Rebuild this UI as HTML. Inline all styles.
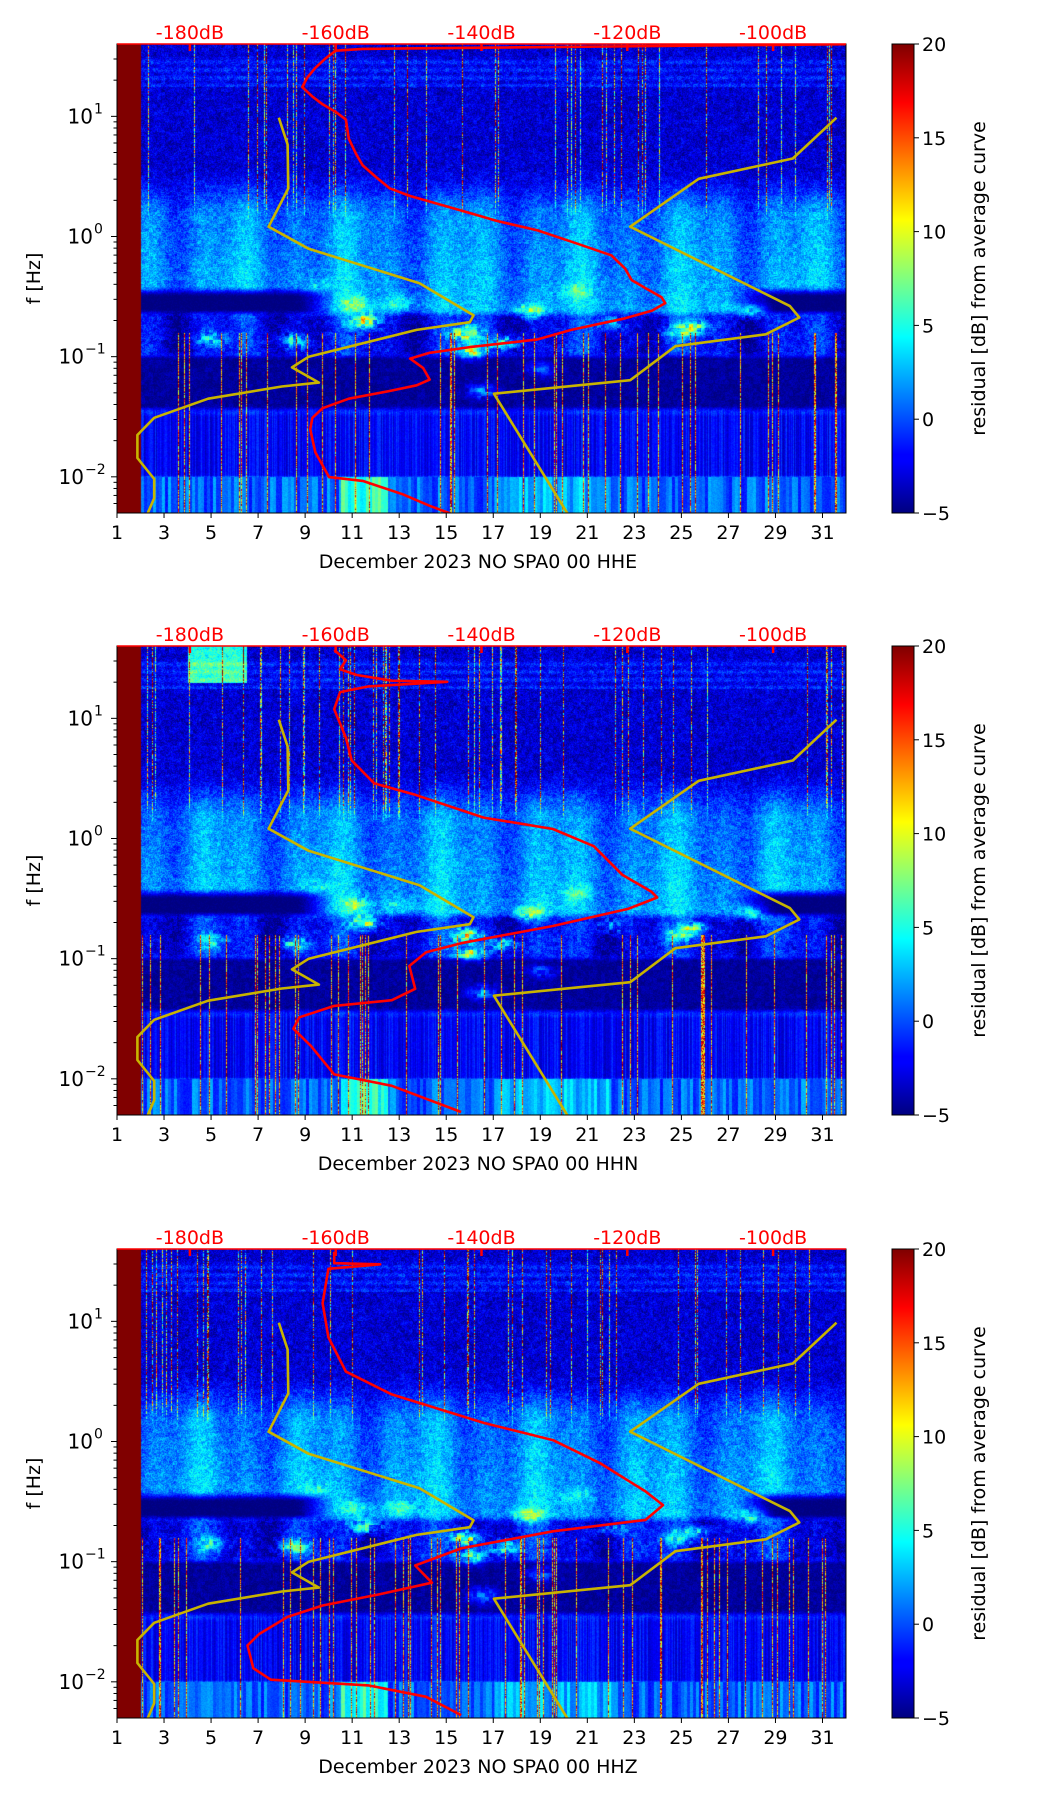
<!DOCTYPE html>
<html><head><meta charset="utf-8">
<style>
body{margin:0;background:#fff;width:1052px;height:1806px;position:relative;overflow:hidden;font-family:"DejaVu Sans","Liberation Sans",sans-serif}
canvas{position:absolute;z-index:0}
svg{position:absolute;left:0;top:0;z-index:1}
</style></head><body>
<div id="root"></div>
<svg id="svg" width="1052" height="1806"></svg>
<script>
// ---- data ----
const xTickDays=[1,3,5,7,9,11,13,15,17,19,21,23,25,27,29,31];
const yTickExp=[1,0,-1,-2];
const dbTicks=[-180,-160,-140,-120,-100];
const cbTicks=[20,15,10,5,0,-5];
const titles=["December 2023 NO SPA0 00 HHE","December 2023 NO SPA0 00 HHN","December 2023 NO SPA0 00 HHZ"];
const nlnmDb=[-167.8,-166.6,-166.5,-169.2,-163.7,-148.5,-141.1,-141.6,-148.9,-163.7,-166.0,-162.3,-167.4,-177.5,-184.9,-187.2,-187.2,-184.9,-184.9,-185.8];
const nlnmLogF=[0.989,0.766,0.400,0.082,-0.102,-0.389,-0.656,-0.713,-0.777,-1.000,-1.089,-1.216,-1.248,-1.350,-1.509,-1.652,-1.843,-2.018,-2.177,-2.305];
const nhnmDb=[-91.3,-97.3,-110.2,-119.6,-97.7,-96.4,-101.0,-113.4,-119.6,-138.3,-128.2];
const nhnmLogF=[0.989,0.649,0.480,0.082,-0.579,-0.674,-0.814,-0.913,-1.196,-1.308,-2.305];
const red1Db=[-90,-156.3,-160.0,-161.4,-162.8,-163.9,-164.6,-163.2,-161.8,-160.0,-158.6,-158.2,-157.2,-156.3,-154.5,-152.6,-149.8,-143.4,-137.9,-132.3,-126.8,-122.2,-120.3,-119.4,-117.6,-115.3,-114.8,-116.6,-120.3,-127.7,-132.3,-141.6,-147.1,-149.8,-148.0,-147.1,-148.9,-152.6,-158.2,-161.8,-163.2,-163.5,-162.8,-160.9,-156.3,-150.8,-147.1,-144.3];
const red1LogF=[1.600,1.561,1.546,1.482,1.403,1.323,1.243,1.164,1.100,1.037,0.973,0.814,0.687,0.592,0.496,0.401,0.337,0.226,0.130,0.051,-0.061,-0.156,-0.267,-0.363,-0.426,-0.506,-0.554,-0.617,-0.681,-0.777,-0.856,-0.920,-0.968,-1.016,-1.095,-1.191,-1.238,-1.286,-1.350,-1.429,-1.509,-1.604,-1.795,-2.002,-2.034,-2.145,-2.241,-2.305];
const red2Db=[-160.2,-158.6,-159.4,-157.1,-152.3,-144.7,-155.5,-159.4,-160.2,-158.6,-157.8,-154.7,-149.1,-139.7,-130.2,-124.6,-120.7,-116.7,-115.9,-119.9,-130.2,-142.8,-147.6,-149.9,-149.1,-152.3,-160.2,-165.0,-165.8,-163.4,-160.2,-152.3,-142.8];
const red2LogF=[1.570,1.484,1.408,1.361,1.313,1.304,1.266,1.218,1.076,0.839,0.649,0.459,0.364,0.174,0.079,-0.064,-0.301,-0.443,-0.491,-0.586,-0.728,-0.871,-0.947,-1.061,-1.251,-1.346,-1.393,-1.488,-1.583,-1.726,-1.963,-2.058,-2.276];
const red3Db=[-160.2,-160.2,-153.9,-161.0,-161.8,-161.0,-158.6,-152.3,-139.7,-130.2,-123.8,-117.5,-115.1,-117.5,-130.2,-142.8,-149.1,-146.8,-153.9,-161.8,-166.6,-170.5,-172.1,-171.3,-168.9,-155.5,-147.6,-142.8];
const red3LogF=[1.579,1.484,1.475,1.437,1.152,0.867,0.582,0.392,0.155,0.012,-0.178,-0.415,-0.529,-0.652,-0.747,-0.890,-1.032,-1.175,-1.270,-1.365,-1.460,-1.602,-1.697,-1.887,-1.982,-2.030,-2.125,-2.277];
const redDb=[red1Db,red2Db,red3Db], redLogF=[red1LogF,red2LogF,red3LogF];
// hotspots: day, log10(f), amplitude
const hotDay=[11.5,15.8,16.0,17.5,18.5,8.5,25.5,22.0,16.5,19.0,28.0,5.0,13.0,20.5,9.5,24.8,11.2];
const hotLogF=[-0.70,-0.80,-0.95,-0.88,-0.62,-0.87,-0.75,-0.72,-1.28,-1.10,-0.62,-0.85,-0.55,-0.45,-0.40,-0.80,-0.55];
const hotAmp=[14,14,12,10,8,9,10,6,7,5,7,7,4,4,3,6,6];

// ---- geometry ----
const L=117,R=846,W=R-L,H=469;
const tops=[44,646,1249];
const xDay=d=>L+(d-1)*W/31;
const xDb=db=>L+(db+190)*W/100;
const LF0=Math.log10(40),LF1=Math.log10(0.005);
const yF=(t,lf)=>t+(LF0-lf)*H/(LF0-LF1);

function jet(v){let t=(v+5)/25;t=Math.max(0,Math.min(1,t));
 const c=x=>Math.max(0,Math.min(1,x));
 return [c(1.5-Math.abs(4*t-3))*255,c(1.5-Math.abs(4*t-2))*255,c(1.5-Math.abs(4*t-1))*255];}
function hash(a,b,s){let h=(a*374761393+b*668265263+s*982451653)|0;h=(h^(h>>>13))*1274126177|0;h^=h>>>16;return (h>>>0)/4294967296;}
const ss=(a,b,x)=>{let t=Math.max(0,Math.min(1,(x-a)/(b-a)));return t*t*(3-2*t);};

function drawSpec(p){
 const cv=document.createElement('canvas');cv.width=W;cv.height=H;
 cv.style.left=L+'px';cv.style.top=tops[p]+'px';
 
 
 document.body.insertBefore(cv,document.body.firstChild);
 const ctx=cv.getContext('2d');const img=ctx.createImageData(W,H);const D=img.data;
 const colS=[],colLow=[],colLine=[],colV=[],colTop=[];
 for(let i=0;i<W;i++){colS.push(hash(i,7,p+1));colLow.push(hash(i,11,p+3));colLine.push(hash(i,19,p+5));colV.push(hash(Math.floor(i/3),23,p+7));colTop.push(0.3+0.7*hash(i,31,p));}
 for(let j=0;j<H;j++){
  const lf=LF0-j*(LF0-LF1)/H;
  for(let i=0;i<W;i++){
   const d=1+i*31/W;let v;
   const n=hash(i,j,p)-0.5, n2=hash(i>>2,j>>2,p+9)-0.5;
   if(d<2){v=20;}
   else{
    const plume=1.5*Math.sin(d*1.3+p)+1.0*Math.sin(d*3.1);
    const high=-3.0+n*3.2+n2*1.5+((lf>1.25&&lf<1.5)?1.2+Math.sin(j*0.8)*0.8:0)+(p===1&&lf>1.3&&d>4&&d<6.5?8:0);
    const mid=1.0+n*3.2+n2*1.5+plume*0.8+(0.3-lf)*1.5;
    const wH=ss(0.15,0.6,lf);
    v=wH*high+(1-wH)*mid;
    if(lf>0.1&&colS[i]>0.93) v+=(8+colS[i]*40*(0.4+n))*ss(0.1,0.5,lf)*colTop[i];
    const band=ss(-0.7,-0.6,lf)*(1-ss(-0.5,-0.4,lf));
    const darkDays=(1-ss(8.5,10.5,d))+ss(27,29,d);
    v=v*(1-band*Math.min(1,darkDays))+(-5+n)*band*Math.min(1,darkDays);
    const b2=ss(-1.02,-0.95,lf)*(1-ss(-0.68,-0.6,lf));
    v=v*(1-b2)+(-2+n*3+n2*2+plume)*b2;
    const b3=ss(-1.5,-1.4,lf)*(1-ss(-1.02,-0.95,lf));
    v=v*(1-b3)+(-4.3+n*1.5+n2)*b3;
    const b4=ss(-2.02,-1.98,lf)*(1-ss(-1.5,-1.4,lf));
    v=v*(1-b4)+(-3.5+colLow[i]*3+n)*b4;
    if(lf<-2){v=-1.5+colV[i]*4+n; if(d>10.5&&d<12.5) v+=5; if(d>17&&d<22) v+=2;}
    for(let k=0;k<hotDay.length;k++){const dd=(d-hotDay[k])/0.6,df=(lf-hotLogF[k])/0.06;const e=dd*dd+df*df;if(e<6)v+=hotAmp[k]*Math.exp(-e)*(0.8+n2*0.6);}
    if(lf<-0.8&&colLine[i]>0.93) v=Math.max(v,6+colLine[i]*14*(0.6+n));
   }
   const c=jet(v);const o=(j*W+i)*4;D[o]=c[0];D[o+1]=c[1];D[o+2]=c[2];D[o+3]=255;
  }}
 ctx.putImageData(img,0,0);
}

const svg=document.getElementById('svg');const NS='http://www.w3.org/2000/svg';
function el(tag,attrs,parent,text){const e=document.createElementNS(NS,tag);for(const k in attrs)e.setAttribute(k,attrs[k]);if(text!==undefined)e.textContent=text;(parent||svg).appendChild(e);return e;}

const defs=el('defs',{});
const grad=el('linearGradient',{id:'jet',x1:0,y1:1,x2:0,y2:0},defs);
[[0,'#00007f'],[0.11,'#0000ff'],[0.125,'#0000ff'],[0.375,'#00ffff'],[0.625,'#ffff00'],[0.875,'#ff0000'],[1,'#7f0000']].forEach(s=>el('stop',{offset:s[0],'stop-color':s[1]},grad));

function line(dbArr,lfArr,t){return dbArr.map((db,k)=>xDb(db).toFixed(1)+','+yF(t,lfArr[k]).toFixed(1)).join(' ');}

const FS=19;
for(let p=0;p<3;p++){
 drawSpec(p);
 const t=tops[p];
 const g=el('g',{});
 
 
 const clip=el('clipPath',{id:'clip'+p},defs);el('rect',{x:L,y:t,width:W,height:H},clip);
 const lg=el('g',{'clip-path':'url(#clip'+p+')'},g);
 const a=el('polyline',{points:line(nlnmDb,nlnmLogF,t),fill:'none',stroke:'#c8b400','stroke-width':2.6,'stroke-linejoin':'round'},lg);
 
 const b=el('polyline',{points:line(nhnmDb,nhnmLogF,t),fill:'none',stroke:'#c8b400','stroke-width':2.6,'stroke-linejoin':'round'},lg);
 
 const r=el('polyline',{points:line(redDb[p],redLogF[p],t),fill:'none',stroke:'#ff0000','stroke-width':2.6,'stroke-linejoin':'round'},lg);
 
 el('rect',{x:L,y:t,width:W,height:H,fill:'none',stroke:'#000','stroke-width':1},g);
 el('line',{x1:L,y1:t,x2:R,y2:t,stroke:'#ff0000','stroke-width':1.5},g);
 xTickDays.forEach(d=>{const x=xDay(d);el('line',{x1:x,y1:t+H,x2:x,y2:t+H+5,stroke:'#000'},g);
  const tx=el('text',{x:x,y:t+H+26,'text-anchor':'middle','font-size':FS},g,String(d));
  });
 const xl=el('text',{x:478,y:t+H+55,'text-anchor':'middle','font-size':FS},g,titles[p]);
 
 yTickExp.forEach(e=>{const y=yF(t,e);el('line',{x1:L-6,y1:y,x2:L,y2:y,stroke:'#000'},g);
  const ex=e<0?'\u2212'+(-e):String(e);
  const tx=el('text',{x:L-(e<0?33:24),y:y+7,'text-anchor':'end','font-size':20},g,'10');
  
  el('text',{x:L-(e<0?33:24)+1,y:y-3,'font-size':14},g,ex);
  for(let m=2;m<10;m++){const lf=e-1+Math.log10(m);if(lf>LF1&&lf<LF0){const ym=yF(t,lf);el('line',{x1:L-3.5,y1:ym,x2:L,y2:ym,stroke:'#000'},g);}}
 });
 for(let m=2;m<=4;m++){const lf=1+Math.log10(m);const ym=yF(t,lf);if(lf<LF0)el('line',{x1:L-3.5,y1:ym,x2:L,y2:ym,stroke:'#000'},g);}
 const yl=el('text',{x:0,y:0,transform:`translate(40,${t+H/2}) rotate(-90)`,'text-anchor':'middle','font-size':FS},g,'f [Hz]');
 
 dbTicks.forEach(db=>{const x=xDb(db);el('line',{x1:x,y1:t,x2:x,y2:t+7,stroke:'#ff0000','stroke-width':2.5},g);
  const tx=el('text',{x:x,y:t-5,'text-anchor':'middle','font-size':FS,fill:'#ff0000'},g,db+'dB');
  });
 const cb=el('rect',{x:892,y:t,width:22,height:H,fill:'url(#jet)',stroke:'#000','stroke-width':1},g);
 
 cbTicks.forEach(v=>{const y=t+H-(v+5)/25*H;el('line',{x1:914,y1:y,x2:919,y2:y,stroke:'#000'},g);
  el('text',{x:922,y:y+7,'font-size':FS},g,v<0?'\u2212'+(-v):String(v));});
 const cl=el('text',{x:0,y:0,transform:`translate(985,${t+H/2}) rotate(-90)`,'text-anchor':'middle','font-size':FS},g,'residual [dB] from average curve');
 
}
document.body.appendChild(svg);
</script>
</body></html>
